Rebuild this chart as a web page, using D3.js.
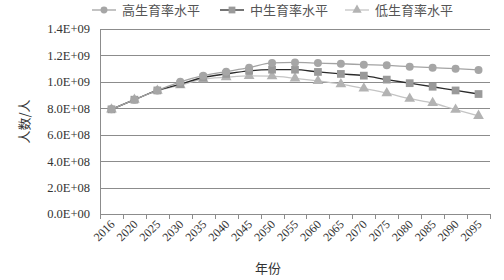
<!DOCTYPE html>
<html>
<head>
<meta charset="utf-8">
<script src="https://cdn.jsdelivr.net/npm/d3@7"></script>
<style>
  body { margin: 0; background: #fff; }
  text { font-family: "Liberation Serif", "Noto Sans CJK SC", serif; }
</style>
</head>
<body>
<div id="wrapper"></div>
<script>
// data
var years = ["2016","2020","2025","2030","2035","2040","2045","2050","2055","2060","2065","2070","2075","2080","2085","2090","2095"];
var high = [7.92e8, 8.65e8, 9.35e8, 1.0e9, 1.047e9, 1.077e9, 1.107e9, 1.143e9, 1.147e9, 1.142e9, 1.137e9, 1.13e9, 1.125e9, 1.115e9, 1.107e9, 1.10e9, 1.09e9];
var mid = [7.92e8, 8.65e8, 9.35e8, 0.983e9, 1.033e9, 1.06e9, 1.083e9, 1.092e9, 1.092e9, 1.075e9, 1.06e9, 1.047e9, 1.017e9, 0.99e9, 0.963e9, 0.935e9, 0.908e9];
var low = [7.92e8, 8.65e8, 9.33e8, 0.975e9, 1.02e9, 1.035e9, 1.045e9, 1.043e9, 1.027e9, 1.007e9, 0.983e9, 0.95e9, 0.915e9, 0.873e9, 0.84e9, 0.79e9, 0.743e9];
var yTicks = [0, 2e8, 4e8, 6e8, 8e8, 1.0e9, 1.2e9, 1.4e9];
var yLabels = ["0.0E+00","2.0E+08","4.0E+08","6.0E+08","8.0E+08","1.0E+09","1.2E+09","1.4E+09"];

var series = [
  { name: "高生育率水平", values: high, line: "#a3a3a3", fill: "#a6a6a6", shape: d3.symbolCircle },
  { name: "中生育率水平", values: mid, line: "#2b2b2b", fill: "#9a9a9a", shape: d3.symbolSquare },
  { name: "低生育率水平", values: low, line: "#c4c4c4", fill: "#b3b3b3", shape: d3.symbolTriangle }
];

var width = 504, height = 280;
var margin = { left: 100, right: 14, top: 29, bottom: 66 };

var svg = d3.select("#wrapper").append("svg")
  .attr("width", width)
  .attr("height", height)
  .attr("viewBox", [0, 0, width, height]);

var x = d3.scaleBand().domain(years).range([margin.left, width - margin.right]);
var y = d3.scaleLinear().domain([0, 1.4e9]).range([height - margin.bottom, margin.top]);

// gridlines
svg.append("g")
  .selectAll("line")
  .data(yTicks)
  .join("line")
  .attr("x1", margin.left)
  .attr("x2", width - margin.right)
  .attr("y1", d => Math.round(y(d)) + 0.5)
  .attr("y2", d => Math.round(y(d)) + 0.5)
  .attr("stroke", "#8c8c8c")
  .attr("stroke-width", 1);

// y axis line + labels
svg.append("line")
  .attr("x1", margin.left + 0.5).attr("x2", margin.left + 0.5)
  .attr("y1", y(1.4e9)).attr("y2", y(0))
  .attr("stroke", "#8c8c8c");

svg.append("g")
  .selectAll("text")
  .data(yTicks)
  .join("text")
  .attr("x", margin.left - 10)
  .attr("y", d => y(d))
  .attr("dy", "0.35em")
  .attr("text-anchor", "end")
  .attr("fill", "#333")
  .style("font-size", "12.5px")
  .text((d, i) => yLabels[i]);

// x ticks at band edges
var edges = years.map(d => x(d)).concat([x(years[years.length - 1]) + x.bandwidth()]);
svg.append("g")
  .selectAll("line")
  .data(edges)
  .join("line")
  .attr("x1", d => Math.round(d) + 0.5)
  .attr("x2", d => Math.round(d) + 0.5)
  .attr("y1", y(0))
  .attr("y2", y(0) + 5)
  .attr("stroke", "#8c8c8c");

svg.append("g")
  .selectAll("text")
  .data(years)
  .join("text")
  .attr("transform", d => `translate(${x(d) + x.bandwidth() / 2 + 1},${y(0) + 8}) rotate(-45)`)
  .attr("text-anchor", "end")
  .attr("dy", "0.35em")
  .attr("fill", "#333")
  .style("font-size", "12px")
  .text(d => d);

// axis titles
svg.append("text")
  .attr("transform", `translate(24,${(y(0) + y(1.4e9)) / 2}) rotate(-90)`)
  .attr("text-anchor", "middle")
  .attr("dy", "0.35em")
  .attr("fill", "#333")
  .style("font-size", "13px")
  .style("font-family", "Noto Sans CJK SC")
  .text("人数/人");

svg.append("text")
  .attr("x", 268)
  .attr("y", 268)
  .attr("text-anchor", "middle")
  .attr("dy", "0.35em")
  .attr("fill", "#333")
  .style("font-size", "13px")
  .style("font-family", "Noto Sans CJK SC")
  .text("年份");

// lines and markers
var line = d3.line()
  .x((d, i) => x(years[i]) + x.bandwidth() / 2)
  .y(d => y(d))
  .curve(d3.curveMonotoneX);

var sg = svg.append("g")
  .selectAll("g")
  .data(series.slice().reverse())
  .join("g");

sg.append("path")
  .attr("d", d => line(d.values))
  .attr("fill", "none")
  .attr("stroke", d => d.line)
  .attr("stroke-width", 1.3);

sg.selectAll(".mk")
  .data(d => d.values.map(v => ({ v: v, s: d })))
  .join("path")
  .attr("class", "mk")
  .attr("transform", (d, i) => `translate(${x(years[i]) + x.bandwidth() / 2},${y(d.v)})`)
  .attr("d", d => d3.symbol().type(d.s.shape).size(d.s.shape === d3.symbolSquare ? 60 : 50)())
  .attr("fill", d => d.s.fill);

// legend
var legendX = [92, 220, 345];
var lg = svg.append("g")
  .selectAll("g")
  .data(series)
  .join("g")
  .attr("transform", (d, i) => `translate(${legendX[i]},10)`);

lg.append("line")
  .attr("x1", 0).attr("x2", 24)
  .attr("y1", 0).attr("y2", 0)
  .attr("stroke", d => d.line)
  .attr("stroke-width", 1.3);

lg.append("path")
  .attr("transform", "translate(12,0)")
  .attr("d", d => d3.symbol().type(d.shape).size(d.shape === d3.symbolSquare ? 46 : 38)())
  .attr("fill", d => d.fill);

lg.append("text")
  .attr("x", 30)
  .attr("y", 0)
  .attr("dy", "0.35em")
  .attr("fill", "#555")
  .style("font-size", "13px")
  .style("font-family", "Noto Sans CJK SC")
  .text(d => d.name);
</script>
</body>
</html>
